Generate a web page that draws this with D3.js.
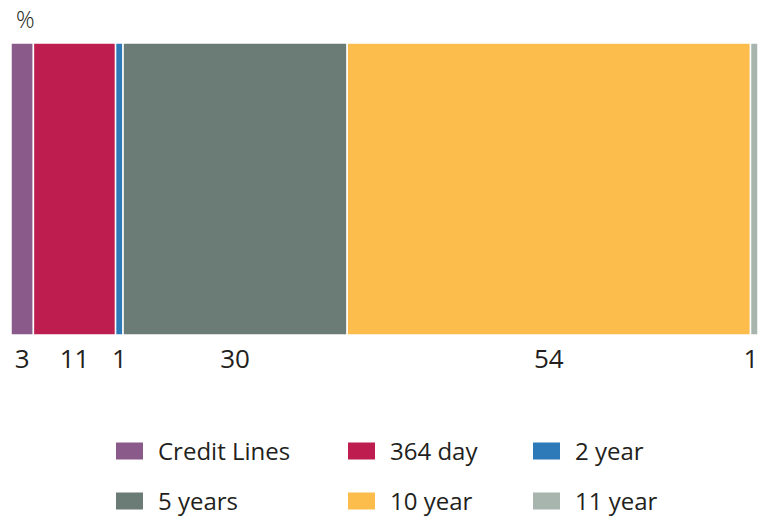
<!DOCTYPE html>
<html>
<head>
<meta charset="utf-8">
<script src="https://cdn.jsdelivr.net/npm/d3@7"></script>
<style>
  body { margin: 0; background: #fff; }
  svg text { font-family: "Open Sans", sans-serif; fill: #231f20; }
</style>
</head>
<body>
<div id="chart"></div>
<script>
// Data
const categories = ["Credit Lines", "364 day", "2 year", "5 years", "10 year", "11 year"]
const values = [3, 11, 1, 30, 54, 1]
const colors = ["#8a5a8a", "#be1e4f", "#2e7ab8", "#6b7b76", "#fdbd4c", "#a8b4ae"]

const svgWidth = 758
const svgHeight = 518

let svg = d3.select("#chart")
  .append("svg")
  .attr("width", svgWidth)
  .attr("height", svgHeight)

// cumulative starts
let starts = []
let acc = 0
values.forEach(v => { starts.push(acc); acc += v })

let x = d3.scaleLinear()
  .domain([0, d3.sum(values)])
  .range([11, 758])

let barTop = 43
let barBottom = 335

svg.append("text")
  .attr("x", 16)
  .attr("y", 28)
  .style("font-size", "23px")
  .style("font-weight", 300)
  .text("%")

svg.selectAll("rect.seg")
  .data(values)
  .enter()
  .append("rect")
  .attr("class", "seg")
  .attr("x", (d, i) => x(starts[i]))
  .attr("y", barTop)
  .attr("width", d => x(d) - x(0))
  .attr("height", barBottom - barTop)
  .attr("fill", (d, i) => colors[i])
  .attr("stroke", "#fff")
  .attr("stroke-width", 1.5)

// value labels under the bar
svg.selectAll("text.val")
  .data(values)
  .enter()
  .append("text")
  .attr("class", "val")
  .attr("x", (d, i) => Math.min(x(starts[i] + d / 2), 751))
  .attr("y", 368)
  .attr("text-anchor", "middle")
  .style("font-size", "26px")
  .text(d => d)

// legend, 3 columns x 2 rows
let colX = [116, 348, 533]
let rowY = [451, 501]

let legend = svg.selectAll("g.leg")
  .data(categories)
  .enter()
  .append("g")
  .attr("class", "leg")
  .attr("transform", (d, i) => `translate(${colX[i % 3]}, ${rowY[Math.floor(i / 3)]})`)

legend.append("rect")
  .attr("x", 0)
  .attr("y", -8.5)
  .attr("width", 27)
  .attr("height", 17)
  .attr("fill", (d, i) => colors[i])

legend.append("text")
  .attr("x", 42)
  .attr("y", 0)
  .attr("dy", "0.36em")
  .style("font-size", "24px")
  .text(d => d)
</script>
</body>
</html>
